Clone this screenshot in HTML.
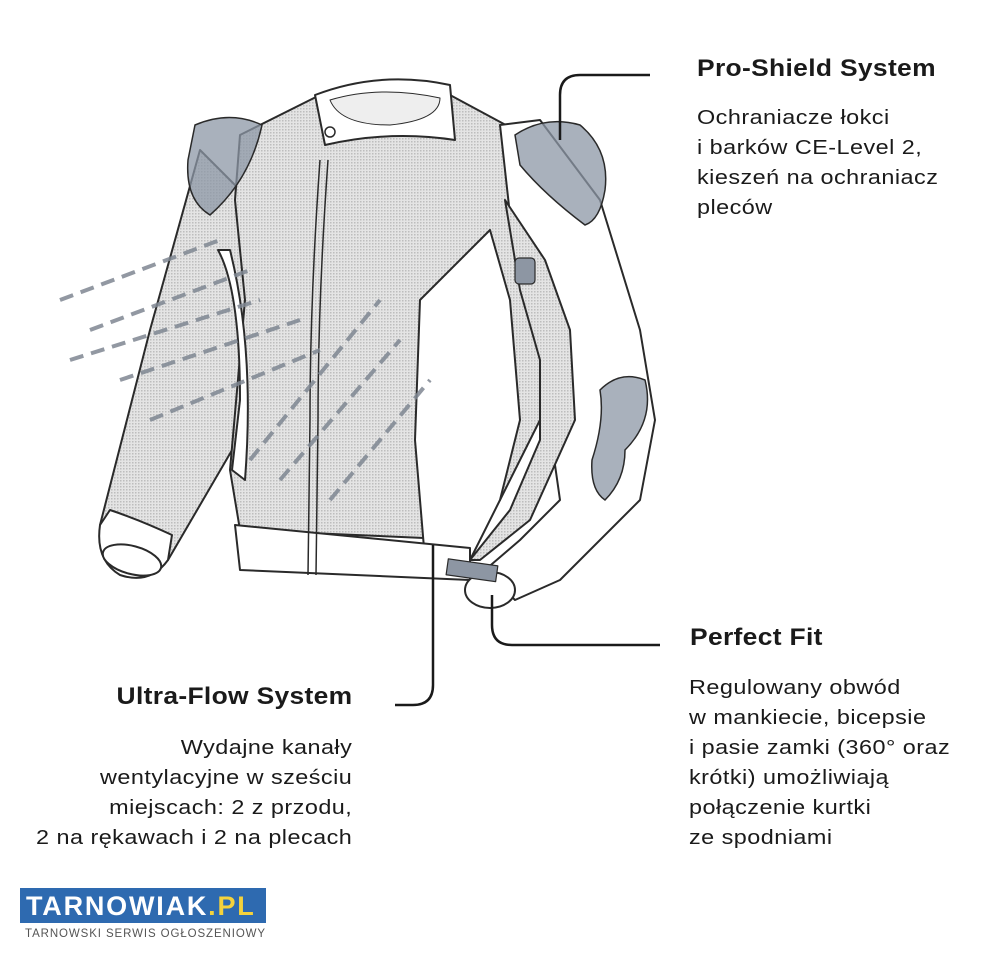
<!DOCTYPE html>
<html><head><meta charset="utf-8"><style>
html,body{margin:0;padding:0;background:#fff;}
body{width:993px;height:960px;position:relative;overflow:hidden;font-family:"Liberation Sans",sans-serif;}
.t{position:absolute;color:#1a1a1a;white-space:nowrap;}
.h{font-weight:bold;font-size:24px;letter-spacing:0.3px;transform:scaleX(1.1);transform-origin:left top;}
.b{font-size:20px;line-height:30px;letter-spacing:0.4px;transform:scaleX(1.17);transform-origin:left top;}
.r{transform-origin:right top;}
</style></head><body>
<svg width="993" height="960" style="position:absolute;left:0;top:0">
<defs>
<pattern id="m" width="3" height="3" patternUnits="userSpaceOnUse"><rect width="3" height="3" fill="#e4e4e4"/><rect width="1.5" height="1.5" fill="#bdbdbd"/></pattern>
</defs>
<g stroke="#2a2a2a" stroke-width="2" stroke-linejoin="round">
<path d="M200,150 L250,200 L245,300 L235,445 L168,560 L100,525 L150,330 Z" fill="url(#m)"/>
<path d="M100,525 Q95,560 120,575 Q150,585 168,560 L172,535 Q140,520 110,510 Z" fill="#fff"/>
<ellipse cx="132" cy="560" rx="30" ry="14" fill="#fff" transform="rotate(15 132 560)"/>
<path d="M240,135 L320,95 L450,95 L515,130 L530,260 L545,300 L560,330 L540,420 L500,500 L470,540 L240,530 L230,470 L245,300 L235,200 Z" fill="url(#m)"/>
<path d="M490,230 L420,300 L415,440 L425,560 L470,560 L500,500 L520,420 L510,300 Z" fill="#fff"/>
<path d="M218,250 Q240,290 240,400 L232,470 L245,480 Q255,350 230,250 Z" fill="#fff"/>
<path d="M235,525 L470,548 L470,580 L240,570 Z" fill="#fff"/>
<path d="M320,160 Q310,300 310,420 L308,575 M328,160 Q318,300 318,420 L316,575" fill="none" stroke-width="1.5"/>
<path d="M315,95 Q380,70 450,85 L455,140 Q390,130 325,145 Z" fill="#fff"/>
<path d="M330,100 Q380,85 440,98 Q440,120 390,125 Q340,125 330,100 Z" fill="#eee" stroke-width="1"/>
<circle cx="330" cy="132" r="5" fill="#fff" stroke-width="1.5"/>
<path d="M500,125 L540,120 L600,200 L640,330 L655,420 L640,500 L560,580 L515,600 L485,570 L520,540 L560,500 L550,430 L540,340 L515,260 Z" fill="#fff"/>
<path d="M505,200 L545,260 L570,330 L575,420 L530,520 L480,560 L470,560 L510,510 L540,440 L540,360 L520,290 Z" fill="url(#m)"/>
<ellipse cx="490" cy="590" rx="25" ry="18" fill="#fff"/>
<rect x="447" y="562" width="50" height="16" fill="#8d96a3" stroke-width="1.2" transform="rotate(8 470 570)"/>
<rect x="515" y="258" width="20" height="26" rx="4" fill="#8d96a3" stroke-width="1.2"/>
</g>
<g fill="#8c97a6" fill-opacity="0.75" stroke="#2a2a2a" stroke-width="1.5">
<path d="M195,125 Q230,110 262,125 Q250,180 210,215 Q185,200 188,160 Z"/>
<path d="M515,135 Q545,115 580,125 Q610,150 605,190 Q600,220 585,225 Q545,195 520,165 Z"/>
<path d="M600,390 Q620,370 645,380 Q655,420 625,450 Q625,480 605,500 Q590,490 592,460 Q605,420 600,390 Z"/>
</g>
<g stroke="#7f8792" stroke-width="4" stroke-dasharray="14 8" fill="none" opacity="0.85">
<path d="M60,300 L220,240"/><path d="M90,330 L250,270"/><path d="M70,360 L260,300"/>
<path d="M120,380 L300,320"/><path d="M150,420 L320,350"/><path d="M250,460 L380,300"/>
<path d="M280,480 L400,340"/><path d="M330,500 L430,380"/>
</g>
<g stroke="#1a1a1a" stroke-width="2.5" fill="none">
<path d="M560,140 L560,95 Q560,75 580,75 L650,75"/>
<path d="M433,545 L433,685 Q433,705 413,705 L395,705"/>
<path d="M492,595 L492,625 Q492,645 512,645 L660,645"/>
</g>
<rect x="20" y="888" width="246" height="35" fill="#2e6ab0"/>
<text x="26" y="915" font-family="Liberation Sans" font-weight="bold" font-size="27" letter-spacing="1.8" fill="#fff">TARNOWIAK<tspan fill="#f4d23c">.PL</tspan></text>
<text x="25" y="937" font-family="Liberation Sans" font-size="11.5" letter-spacing="0.9" fill="#555">TARNOWSKI SERWIS OGŁOSZENIOWY</text>
</svg>
<div class="t h" style="left:697px;top:55px">Pro-Shield System</div>
<div class="t b" style="left:697px;top:103px">Ochraniacze łokci<br>i barków CE-Level 2,<br>kieszeń na ochraniacz<br>pleców</div>
<div class="t h" style="left:690px;top:624px">Perfect Fit</div>
<div class="t b" style="left:689px;top:673px">Regulowany obwód<br>w mankiecie, bicepsie<br>i pasie zamki (360° oraz<br>krótki) umożliwiają<br>połączenie kurtki<br>ze spodniami</div>
<div class="t h r" style="right:641px;top:683px;text-align:right">Ultra-Flow System</div>
<div class="t b r" style="right:641px;top:733px;text-align:right">Wydajne kanały<br>wentylacyjne w sześciu<br>miejscach: 2 z przodu,<br>2 na rękawach i 2 na plecach</div>
</body></html>
